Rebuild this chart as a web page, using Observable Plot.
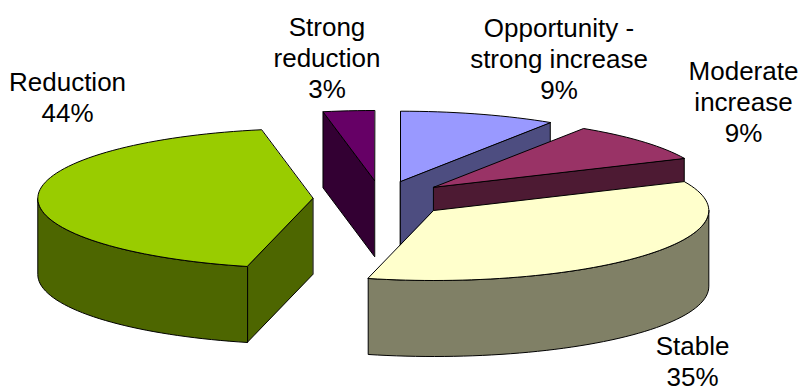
<!DOCTYPE html>
<html>
<head>
<meta charset="utf-8">
<script src="https://cdn.jsdelivr.net/npm/d3@7"></script>
<script src="https://cdn.jsdelivr.net/npm/@observablehq/plot@0.6"></script>
<style>
html,body{margin:0;padding:0;background:#fff;overflow:hidden}
svg{display:block}
</style>
</head>
<body>
<div id="chart"></div>
<script>
// Data, in drawing order (clockwise, starting at the narrow back slice)
const categories = ["Strong reduction", "Opportunity - strong increase", "Moderate increase", "Stable", "Reduction"];
const shares = [3, 9, 9, 35, 44];
const labelLines = ["Strong\nreduction", "Opportunity -\nstrong increase", "Moderate\nincrease", "Stable", "Reduction"];

// Colours
const topColors = ["#660066", "#9999FF", "#993366", "#FFFFCC", "#99CC00"];
const sideColors = ["#330033", "#4D4D80", "#4D1A33", "#808066", "#4D6600"];

// Layout of the exploded 3-D pie
const W = 800, H = 388;
const rx = 275, ry = 70, depth = 76;
const startAngle = -10.8;
const apexX = [374, 400, 433.3, 433.3, 312.3];
const apexY = [180, 180.7, 186.7, 210, 198];
const perspectiveNudge = [0, 0, 0.6, 0.8, 3, 0]; // foreshortening at slice boundaries, degrees
const labelX = [326.5, 558.5, 743, 692, 67];
const labelY = [57, 58, 101, 360.5, 96.5];

const total = d3.sum(shares);
const cum = d3.cumsum(shares);
const boundaries = [startAngle, ...Array.from(cum, c => startAngle + c / total * 360)]
  .map((a, i) => a + perspectiveNudge[i]);

const rad = d => d * Math.PI / 180;
const rim = (i, a, dz = 0) => ({x: apexX[i] + rx * Math.sin(rad(a)), y: apexY[i] - ry * Math.cos(rad(a)) + dz});
const arc = (i, a0, a1, dz = 0) => {
  const n = Math.max(1, Math.ceil(Math.abs(a1 - a0) / 2));
  return d3.range(n + 1).map(k => rim(i, a0 + (a1 - a0) * k / n, dz));
};

const face = (pts, fill) => Plot.line(pts, {x: "x", y: "y", fill, stroke: "#000", strokeWidth: 1, curve: "linear-closed", strokeLinejoin: "round"});

const marks = [];
categories.forEach((c, i) => {
  const a0 = boundaries[i], a1 = boundaries[i + 1];
  const apex = {x: apexX[i], y: apexY[i]};
  const apexLow = {x: apexX[i], y: apexY[i] + depth};
  const radial = a => [apex, rim(i, a), rim(i, a, depth), apexLow];
  // radial walls that face the viewer
  if (Math.sin(rad(a0)) < 0) marks.push(face(radial(a0), sideColors[i]));
  if (Math.sin(rad(a1)) > 0) marks.push(face(radial(a1), sideColors[i]));
  // curved outer wall on the near half
  const w0 = Math.max(a0, 90), w1 = Math.min(a1, 270);
  if (w1 > w0) marks.push(face([...arc(i, w0, w1), ...arc(i, w1, w0, depth)], sideColors[i]));
  // top
  marks.push(face([apex, ...arc(i, a0, a1)], topColors[i]));
});

const labels = categories.map((c, i) => ({
  text: labelLines[i] + "\n" + shares[i] + "%",
  x: labelX[i],
  y: labelY[i]
}));
marks.push(Plot.text(labels, {
  x: "x", y: "y", text: "text",
  fontSize: 26, lineHeight: 1.19, fill: "#000",
  textAnchor: "middle", lineAnchor: "middle"
}));

const chart = Plot.plot({
  width: W, height: H,
  margin: 0,
  style: {fontFamily: "'Liberation Sans', Arial, sans-serif", background: "#fff"},
  x: {domain: [0, W], range: [0, W], axis: null},
  y: {domain: [0, H], range: [0, H], axis: null},
  marks
});
document.getElementById("chart").append(chart);
</script>
</body>
</html>
